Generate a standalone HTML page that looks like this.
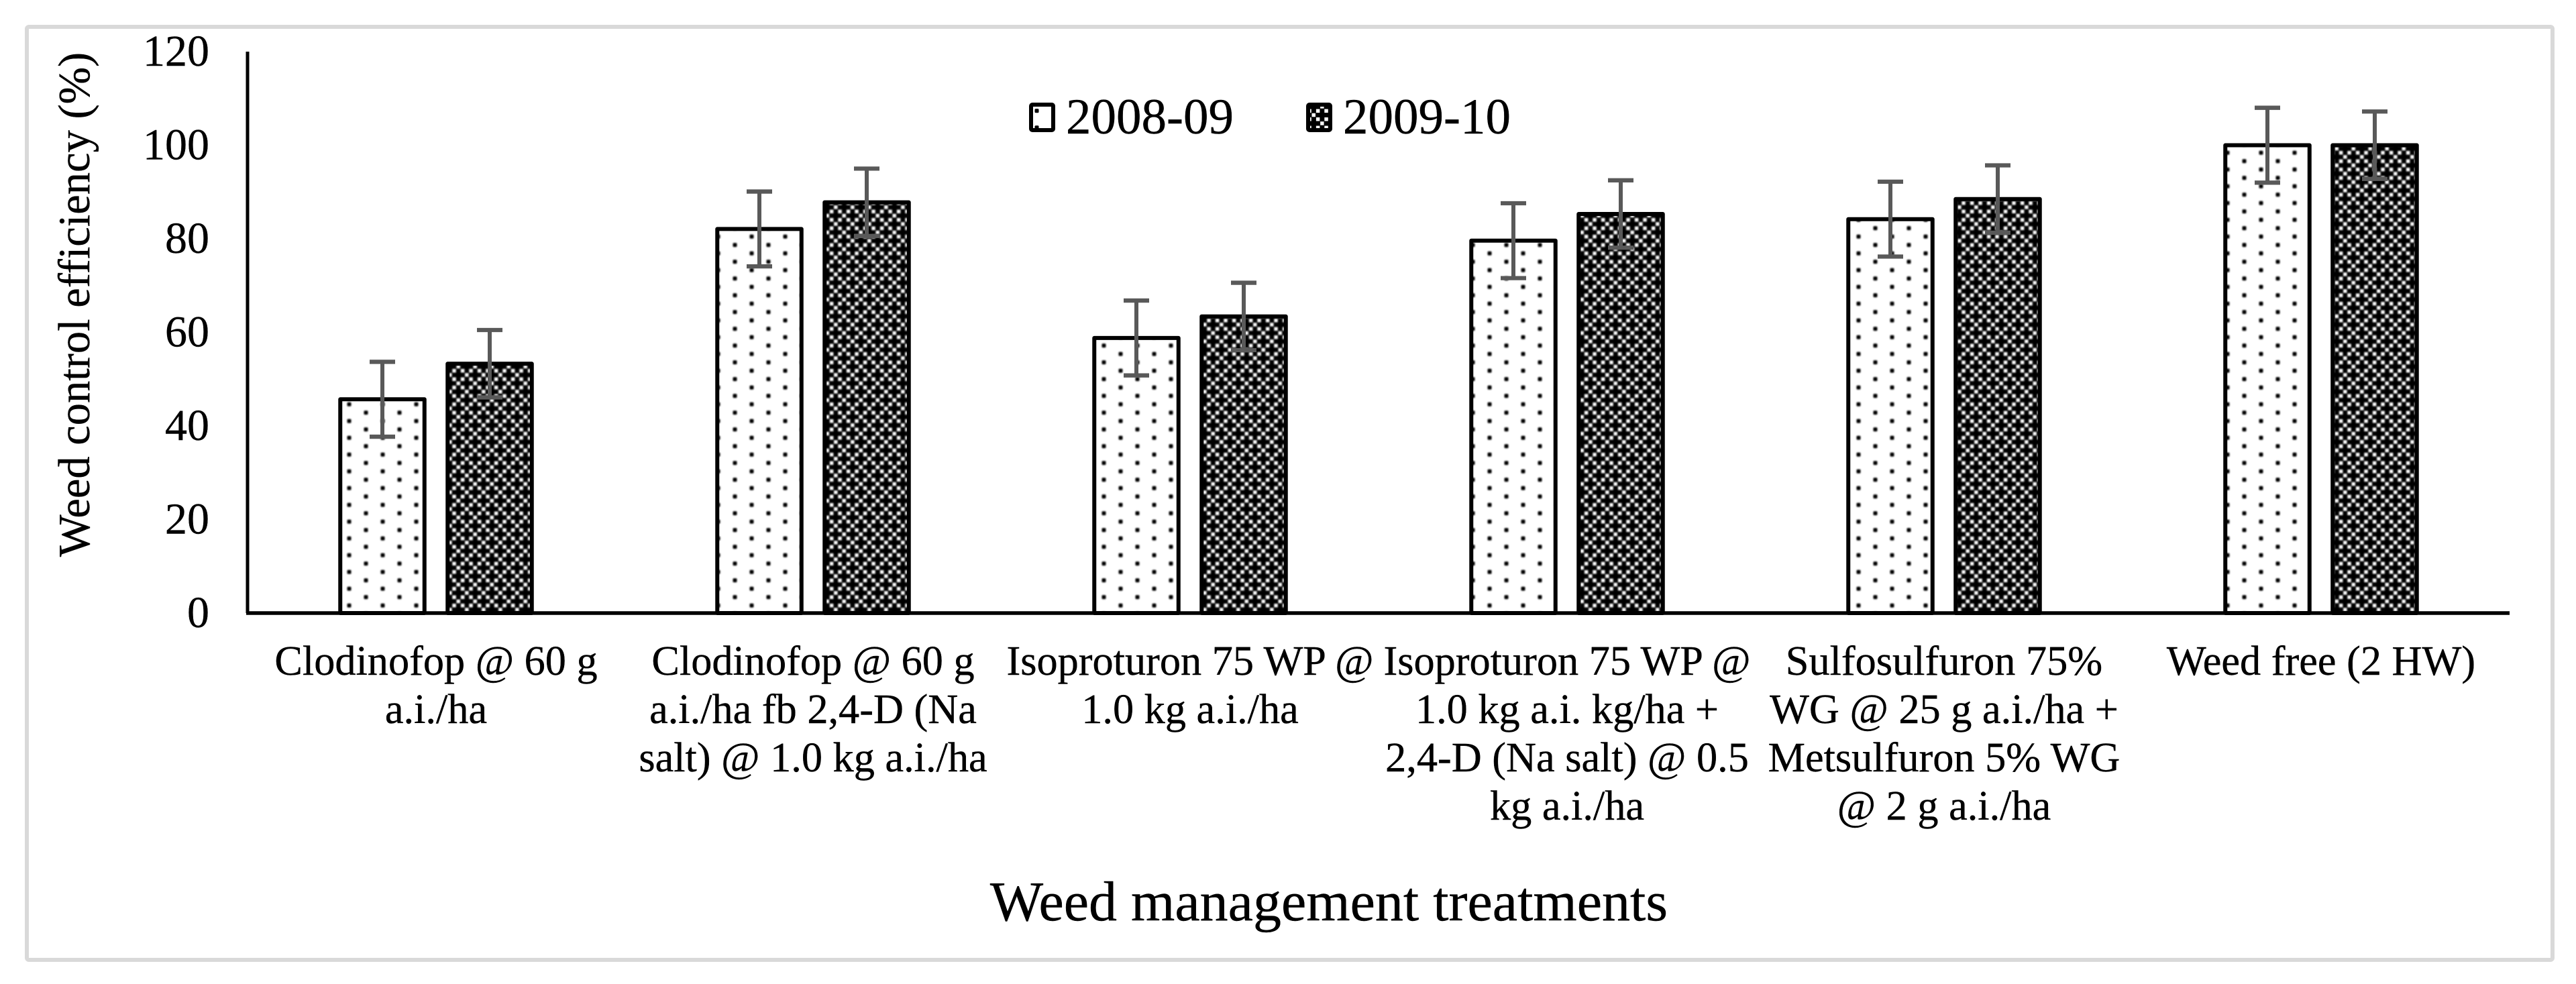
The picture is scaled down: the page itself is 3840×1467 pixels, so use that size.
<!DOCTYPE html>
<html>
<head>
<meta charset="utf-8">
<title>Weed control efficiency chart</title>
<style>
html,body{margin:0;padding:0;background:#fff;}
svg{display:block;}
text{font-family:"Liberation Serif",serif;fill:#000;stroke:#000;stroke-width:0.4px;}
</style>
</head>
<body>
<svg id="chart" xmlns="http://www.w3.org/2000/svg" width="3840" height="1467" viewBox="0 0 3840 1467">
  <defs>
    <pattern id="dots" patternUnits="userSpaceOnUse" x="8" y="-3.55" width="50" height="25">
      <rect width="50" height="25" fill="#fff"/>
      <rect x="9.5" y="3.25" width="6" height="6" rx="1.5" fill="#000"/>
      <rect x="34.5" y="15.75" width="6" height="6" rx="1.5" fill="#000"/>
    </pattern>
    <pattern id="dense" patternUnits="userSpaceOnUse" x="-1.125" y="-0.425" width="25" height="25">
      <rect width="25" height="25" fill="#000"/>
      <rect x="0.4" y="0.4" width="5.5" height="5.5" fill="#fff"/>
      <rect x="13" y="0.4" width="5.5" height="5.5" fill="#fff"/>
      <rect x="0.4" y="13" width="5.5" height="5.5" fill="#fff"/>
      <rect x="13" y="13" width="5.5" height="5.5" fill="#fff"/>
      <rect x="19.2" y="6.6" width="5.5" height="5.5" fill="#fff"/>
      <rect x="6.6" y="19.2" width="5.5" height="5.5" fill="#fff"/>
    </pattern>
    <filter id="soft" x="-5%" y="-5%" width="110%" height="110%" color-interpolation-filters="sRGB">
      <feGaussianBlur stdDeviation="1"/>
    </filter>
  </defs>
  <rect x="40" y="40" width="3765" height="1391" rx="3" fill="#fff" stroke="#d9d9d9" stroke-width="6"/>
  <g id="bars"></g>
  <g id="errors"></g>
  <line x1="369" y1="77" x2="369" y2="914" stroke="#000" stroke-width="5"/>
  <line x1="367" y1="914" x2="3741" y2="914" stroke="#000" stroke-width="5.5"/>
  <g id="yticks"></g>
  <g id="xlabels"></g>
  <text transform="translate(133,454) rotate(-90)" text-anchor="middle" font-size="66.5">Weed control efficiency (%)</text>
  <text x="1981" y="1372" text-anchor="middle" font-size="84">Weed management treatments</text>
  <g>
    <g>
      <rect x="1537" y="156" width="33" height="38" rx="2" fill="url(#dots)" stroke="#000" stroke-width="6"/>
      <text x="1589" y="199" font-size="75">2008-09</text>
    </g>
    <g>
      <rect x="1950" y="156" width="33" height="38" rx="2" fill="url(#dense)" stroke="#000" stroke-width="6"/>
      <text x="2002" y="199" font-size="75">2009-10</text>
    </g>
  </g>
</svg>
<script>
const categories = [
  ["Clodinofop @ 60 g", "a.i./ha"],
  ["Clodinofop @ 60 g", "a.i./ha fb 2,4-D (Na", "salt) @ 1.0 kg a.i./ha"],
  ["Isoproturon 75 WP @", "1.0 kg a.i./ha"],
  ["Isoproturon 75 WP @", "1.0 kg a.i. kg/ha +", "2,4-D (Na salt) @ 0.5", "kg a.i./ha"],
  ["Sulfosulfuron 75%", "WG @ 25 g a.i./ha +", "Metsulfuron 5% WG", "@ 2 g a.i./ha"],
  ["Weed free (2 HW)"]
];
const values2008 = [45.7, 82.1, 58.8, 79.6, 84.2, 100];
const values2009 = [53.3, 87.8, 63.4, 85.3, 88.5, 100];
const errors2008 = [8, 8, 8, 8, 8, 8];
const errors2009 = [7.2, 7.2, 7.2, 7.2, 7.2, 7.2];
const yTicks = [0, 20, 40, 60, 80, 100, 120];

const NS = "http://www.w3.org/2000/svg";
function yScale(v) { return 914 - v * (837 / 120); }
function xCenter(i) { return 369 + 562 * (i + 0.5); }
function make(tag, attrs, parent) {
  const el = document.createElementNS(NS, tag);
  for (const k in attrs) el.setAttribute(k, attrs[k]);
  parent.appendChild(el);
  return el;
}

const barsG = document.getElementById("bars");
const errG = document.getElementById("errors");
const BAR_W = 125.5;
const OFFSET = 80;

function drawSeries(vals, errs, dir, fill, tag) {
  vals.forEach(function (v, i) {
    const cx = xCenter(i) + dir * OFFSET;
    const top = yScale(v);
    const base = yScale(0);
    const fillRect = make("rect", { x: cx - BAR_W / 2, y: top, width: BAR_W, height: base - top, fill: "url(#" + fill + ")", filter: "url(#soft)" }, barsG);
    
    
    const outline = make("rect", { x: cx - BAR_W / 2, y: top, width: BAR_W, height: base - top, fill: "none", stroke: "#000", "stroke-width": 6, "stroke-linejoin": "round" }, barsG);
    
    

    const hi = yScale(v + errs[i]);
    const lo = yScale(v - errs[i]);
    const stem = make("line", { x1: cx, x2: cx, y1: hi, y2: lo, stroke: "#595959", "stroke-width": 6 }, errG);
    
    
    const capTop = make("line", { x1: cx - 19, x2: cx + 19, y1: hi, y2: hi, stroke: "#595959", "stroke-width": 6.3 }, errG);
    
    
    const capBottom = make("line", { x1: cx - 19, x2: cx + 19, y1: lo, y2: lo, stroke: "#595959", "stroke-width": 6.3 }, errG);
    
    
  });
}
drawSeries(values2008, errors2008, -1, "dots", "2008-09");
drawSeries(values2009, errors2009, 1, "dense", "2009-10");

const yG = document.getElementById("yticks");
yTicks.forEach(function (t) {
  const label = make("text", { x: 312, y: yScale(t) + 21, "text-anchor": "end", "font-size": 66 }, yG);
  
  
  label.textContent = String(t);
});

const xG = document.getElementById("xlabels");
categories.forEach(function (lines, i) {
  lines.forEach(function (line, j) {
    const label = make("text", { x: xCenter(i), y: 1006 + j * 72, "text-anchor": "middle", "font-size": 62.3 }, xG);
    
    
    label.textContent = line;
  });
});
</script>
</body>
</html>
